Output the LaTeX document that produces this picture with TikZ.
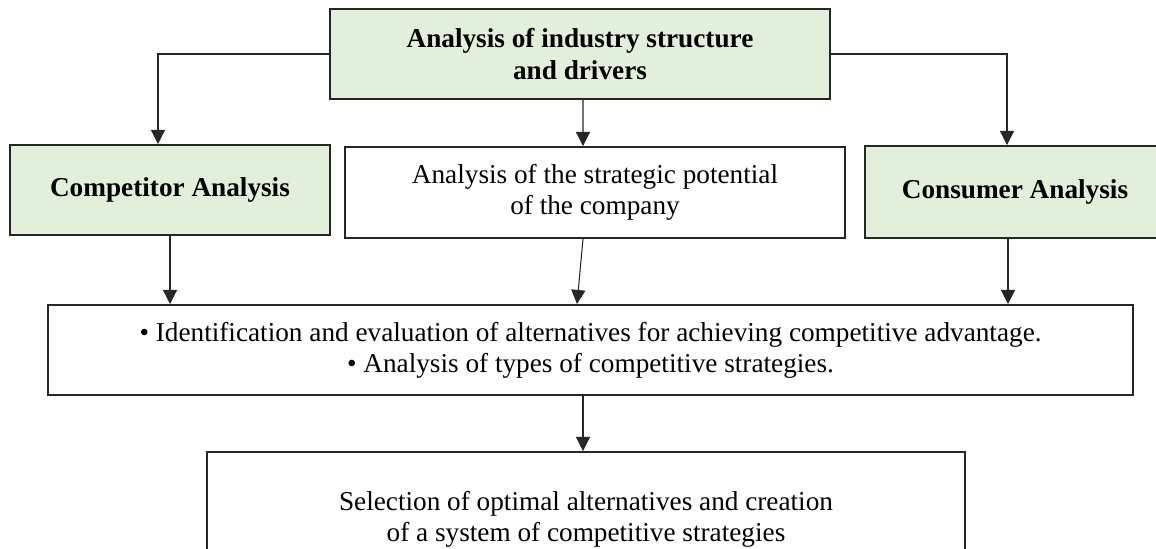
\documentclass[tikz,border=0pt]{standalone}
\usepackage{fontspec}
\setmainfont{Liberation Serif}
\usetikzlibrary{arrows.meta}
\definecolor{boxgreen}{HTML}{E2EFDA}

\begin{document}
\begin{tikzpicture}[
		box/.style={draw=black!85, line width=1.1pt, align=center, inner sep=2pt, font=\fontsize{15.5}{17.5}\selectfont},
		greenbox/.style={box, fill=boxgreen, font=\fontsize{15.5}{18.5}\selectfont\bfseries},
		arr/.style={draw=black!85, line width=0.6pt, -{Triangle[width=8pt,length=8pt]}}
	]
		\clip (0,0) rectangle (23.12,10.98);

		%top level
		\node[greenbox, minimum width=10cm, minimum height=1.8cm] (industry) at (11.6,9.9) {Analysis of industry structure\\and drivers};

		%middle row
		\node[greenbox, minimum width=6.4cm, minimum height=1.8cm] (competitor) at (3.4,7.18) {Competitor Analysis};
		\node[box, minimum width=10cm, minimum height=1.82cm] (potential) at (11.9,7.13) {Analysis of the strategic potential\\of the company};
		\node[greenbox, minimum width=6cm, minimum height=1.84cm] (consumer) at (20.3,7.14) {Consumer Analysis};

		%alternatives
		\node[box, minimum width=21.7cm, minimum height=1.8cm] (alternatives) at (11.81,3.98) {\textbullet{} Identification and evaluation of alternatives for achieving competitive advantage.\\\textbullet{} Analysis of types of competitive strategies.};

		%selection (cut off below)
		\node[box, minimum width=15.16cm, minimum height=2.7cm] (selection) at (11.72,0.59) {Selection of optimal alternatives and creation\\of a system of competitive strategies};

		\draw[arr] (industry.west) -| ([xshift=-0.24cm]competitor.north);
		\draw[arr] ([xshift=0.06cm]industry.south) -- ([xshift=-0.24cm]potential.north);
		\draw[arr] (industry.east) -| ([xshift=-0.16cm]consumer.north);

		\draw[arr] (competitor.south) -- (competitor.south |- alternatives.north);
		\draw[arr] ([xshift=-0.24cm]potential.south) -- ([xshift=-0.27cm]alternatives.north);
		\draw[arr] ([xshift=-0.14cm]consumer.south) -- ([xshift=-0.14cm]consumer.south |- alternatives.north);

		\draw[arr] ([xshift=-0.15cm]alternatives.south) -- ([xshift=-0.15cm]alternatives.south |- selection.north);

	\end{tikzpicture}
\end{document}
